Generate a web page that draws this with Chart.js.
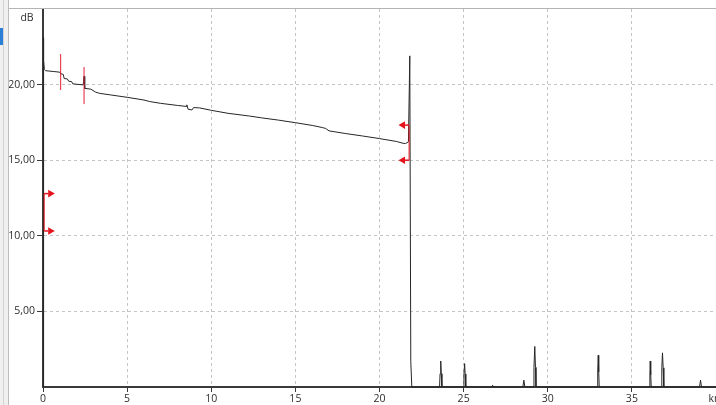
<!DOCTYPE html>
<html>
<head>
<meta charset="utf-8">
<title>OTDR trace</title>
<script src="https://cdn.jsdelivr.net/npm/chart.js@4/dist/chart.umd.min.js"></script>
<style>
  html, body { margin: 0; padding: 0; background: #fff; overflow: hidden; width: 716px; height: 405px; }
  #wrap { position: absolute; left: 0; top: 0; width: 740px; height: 405px; }
  .pane-left { position: absolute; left: 0; top: 0; width: 9px; height: 405px; background: #f0f0f0;
               border-right: 1px solid #bcbcbc; box-sizing: border-box; z-index: 2; }
  .pane-rule { position: absolute; left: 3px; top: 0; width: 1px; height: 405px; background: #d2d2d2; z-index: 3; }
  .pane-tab  { position: absolute; left: 0; top: 28px; width: 3px; height: 17px; background: #2b7fd6; z-index: 3; }
  .pane-top  { position: absolute; left: 9px; top: 8px; width: 740px; height: 1px; background: #b4b4b4; z-index: 2; }
</style>
</head>
<body>
<div id="wrap"><canvas id="trace" width="740" height="405"></canvas></div>
<div class="pane-left"></div>
<div class="pane-rule"></div>
<div class="pane-tab"></div>
<div class="pane-top"></div>
<script>
// Backscatter trace: distance (km) and level (dB)
const traceKm = [
  0.00, 0.02, 0.05, 0.08, 0.15, 0.60, 1.00, 1.05, 1.20, 1.26, 1.44, 1.53, 1.70, 1.77, 2.39, 2.44, 2.48,
  2.84, 3.13, 3.37, 4.00, 5.00, 6.00, 6.34, 7.00, 8.00, 8.50, 8.55, 8.62, 8.85, 8.95, 9.30, 10.00,
  11.00, 12.28, 13.00, 14.00, 15.00, 16.00, 16.60, 16.80, 17.00, 18.00, 19.00, 20.00, 21.00, 21.40,
  21.55, 21.72, 21.80, 21.86, 21.92,
  23.57, 23.60, 23.64, 23.67, 23.71,
  24.99, 25.02, 25.06, 25.09, 25.13,
  26.68, 26.72, 26.76,
  28.52, 28.58, 28.64,
  29.15, 29.18, 29.23, 29.27, 29.30,
  32.94, 32.97, 33.00, 33.03, 33.06,
  36.04, 36.07, 36.09, 36.12, 36.15,
  36.74, 36.78, 36.82, 36.86, 36.90,
  39.02, 39.08, 39.14, 40.00
];
const traceDb = [
  0.00, 23.10, 21.60, 21.00, 20.92, 20.87, 20.82, 20.72, 20.68, 20.40, 20.38, 20.22, 20.20, 20.05, 19.98, 20.55, 19.75,
  19.70, 19.50, 19.42, 19.32, 19.16, 18.98, 18.88, 18.76, 18.62, 18.56, 18.66, 18.38, 18.32, 18.48, 18.46, 18.30,
  18.10, 17.92, 17.80, 17.65, 17.48, 17.30, 17.16, 17.10, 16.94, 16.76, 16.60, 16.43, 16.24, 16.12,
  16.10, 16.22, 21.90, 1.70, 0.00,
  0.00, 0.88, 1.72, 0.88, 0.00,
  0.00, 0.86, 1.55, 0.86, 0.00,
  0.00, 0.12, 0.00,
  0.00, 0.45, 0.00,
  0.00, 1.30, 2.68, 1.30, 0.00,
  0.00, 1.00, 2.10, 1.00, 0.00,
  0.00, 0.80, 1.72, 0.80, 0.00,
  0.00, 1.27, 2.26, 1.27, 0.00,
  0.00, 0.45, 0.00, 0.00
];

// Event cursors (plain vertical bars)
const eventKm     = [1.05, 2.44];
const eventLowDb  = [19.64, 18.71];
const eventHighDb = [22.02, 21.16];

// Level cursors (vertical bar with arrow heads at both levels)
const spanKm     = [0.07, 21.76];
const spanLowDb  = [10.32, 15.00];
const spanHighDb = [12.79, 17.32];
const spanDir    = [1, -1];

// Axis ticks
const kmTicks = [0, 5, 10, 15, 20, 25, 30, 35, 40];
const dbTicks = [5, 10, 15, 20];

const RED = '#e5141c';
const STUB_KM = 0.24;
const HEAD_KM = 0.37;
const FONT = { family: '"Open Sans", "Noto Sans", sans-serif', size: 10.5 };
const TEXT = '#2e2e2e';
const AXIS = '#3a3a3a';
const GRID = '#c4c4c4';

const datasets = [];
datasets.push({
  data: traceKm.map((x, i) => ({ x, y: traceDb[i] })),
  borderColor: '#262626', borderWidth: 1, pointRadius: 0, showLine: true, clip: false, order: 2
});
eventKm.forEach((x, i) => {
  datasets.push({
    data: [{ x, y: eventLowDb[i] }, { x, y: eventHighDb[i] }],
    borderColor: '#e0203a', borderWidth: 1, pointRadius: 0, showLine: true, order: 1
  });
});
spanKm.forEach((x, i) => {
  const d = spanDir[i];
  datasets.push({
    data: [{ x, y: spanLowDb[i] }, { x, y: spanHighDb[i] }],
    borderColor: RED, borderWidth: 1, pointRadius: 0, showLine: true, clip: false, order: 1
  });
  [spanLowDb[i], spanHighDb[i]].forEach(y => {
    datasets.push({
      data: [{ x, y }, { x: x + d * STUB_KM, y }],
      borderColor: RED, borderWidth: 1.5, pointRadius: 0, showLine: true, order: 1
    });
    datasets.push({
      data: [{ x: x + d * HEAD_KM, y }],
      showLine: false, pointStyle: 'triangle', pointRotation: d > 0 ? 90 : -90,
      pointRadius: 4.4, pointBackgroundColor: RED, pointBorderWidth: 0, order: 1
    });
  });
});

// Unit label above the level axis
const unitLabel = {
  id: 'unitLabel',
  afterDraw(chart) {
    const ctx = chart.ctx;
    ctx.save();
    ctx.font = `${FONT.size}px ${FONT.family}`;
    ctx.fillStyle = TEXT;
    ctx.textAlign = 'center';
    ctx.textBaseline = 'middle';
    ctx.fillText('dB', 27, 18.5);
    ctx.restore();
  }
};

new Chart(document.getElementById('trace'), {
  type: 'scatter',
  data: { datasets },
  plugins: [unitLabel],
  options: {
    responsive: false,
    animation: false,
    events: [],
    layout: { padding: { top: 9, right: 24, left: 0, bottom: 0 } },
    plugins: { legend: { display: false }, tooltip: { enabled: false } },
    scales: {
      x: {
        type: 'linear', min: kmTicks[0], max: kmTicks[kmTicks.length - 1],
        afterFit(s) { s.height = 18; },
        afterBuildTicks(s) { s.ticks = kmTicks.map(v => ({ value: v })); },
        ticks: {
          autoSkip: false, maxRotation: 0, padding: 1, color: TEXT, font: FONT,
          callback: v => (v === kmTicks[kmTicks.length - 1] ? 'km' : String(v))
        },
        grid: { color: GRID, lineWidth: 1, drawTicks: true, tickLength: 5, tickColor: AXIS, tickWidth: 1 },
        border: { display: true, color: AXIS, width: 2, dash: [3, 3] }
      },
      y: {
        type: 'linear', min: 0, max: 25,
        afterFit(s) { s.width = 43; },
        afterBuildTicks(s) { s.ticks = dbTicks.map(v => ({ value: v })); },
        ticks: {
          padding: 2, color: TEXT, font: FONT,
          callback: v => v.toFixed(2).replace('.', ',')
        },
        grid: { color: GRID, lineWidth: 1, drawTicks: true, tickLength: 6, tickColor: AXIS, tickWidth: 1 },
        border: { display: true, color: AXIS, width: 2, dash: [3, 3] }
      }
    }
  }
});
</script>
</body>
</html>
